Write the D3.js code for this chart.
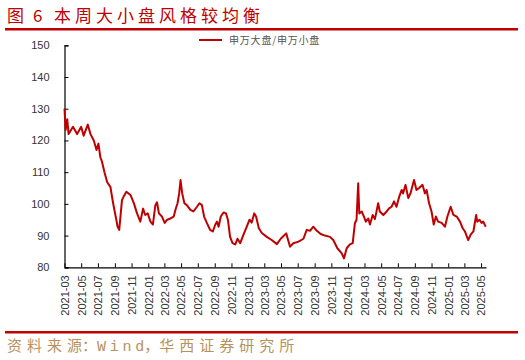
<!DOCTYPE html>
<html>
<head>
<meta charset="utf-8">
<script src="https://cdn.jsdelivr.net/npm/d3@7"></script>
<style>
  body { margin: 0; background: #fff; }
  svg { display: block; }
</style>
</head>
<body>
<div id="chart-area"></div>
<script>
// 申万大盘/申万小盘
var dates = [
  "2021-03-01","2021-03-05","2021-03-11","2021-03-16","2021-04-01","2021-04-16","2021-05-01","2021-05-10",
  "2021-05-25","2021-06-04","2021-06-16","2021-06-26","2021-07-03","2021-07-10","2021-07-16","2021-07-25",
  "2021-08-04","2021-08-16","2021-08-22","2021-08-28","2021-09-03","2021-09-11","2021-09-17","2021-09-27",
  "2021-10-03","2021-10-13","2021-10-28","2021-11-09","2021-11-21","2021-12-03","2021-12-13","2021-12-21",
  "2021-12-30","2022-01-09","2022-01-18","2022-01-27","2022-02-02","2022-02-09","2022-02-20","2022-03-02",
  "2022-03-11","2022-03-23","2022-04-04","2022-04-12","2022-04-18","2022-04-24","2022-04-29","2022-05-05",
  "2022-05-13","2022-05-22","2022-06-04","2022-06-15","2022-06-28","2022-07-07","2022-07-16","2022-07-24",
  "2022-08-03","2022-08-15","2022-08-25","2022-09-03","2022-09-09","2022-09-15","2022-09-23","2022-10-03",
  "2022-10-12","2022-10-19","2022-10-27","2022-11-05","2022-11-15","2022-11-23","2022-12-03","2022-12-15",
  "2022-12-27","2023-01-06","2023-01-14","2023-01-23","2023-01-30","2023-02-09","2023-02-20","2023-03-10",
  "2023-03-28","2023-04-16","2023-04-30","2023-05-20","2023-06-03","2023-06-15","2023-07-04","2023-07-22",
  "2023-08-03","2023-08-15","2023-08-27","2023-09-09","2023-09-23","2023-10-09","2023-10-27","2023-11-08",
  "2023-11-23","2023-12-09","2023-12-17","2023-12-27","2024-01-08","2024-01-18","2024-01-26","2024-02-01",
  "2024-02-07","2024-02-11","2024-02-20","2024-02-28","2024-03-06","2024-03-15","2024-03-21","2024-03-31",
  "2024-04-08","2024-04-14","2024-04-20","2024-04-26","2024-05-09","2024-05-21","2024-05-30","2024-06-08",
  "2024-06-17","2024-06-26","2024-07-06","2024-07-15","2024-07-20","2024-07-29","2024-08-08","2024-08-16",
  "2024-08-29","2024-09-07","2024-09-17","2024-09-29","2024-10-08","2024-10-14","2024-10-23","2024-11-01",
  "2024-11-09","2024-11-17","2024-11-25","2024-12-08","2024-12-20","2024-12-29","2025-01-10","2025-01-20",
  "2025-02-01","2025-02-13","2025-02-23","2025-03-03","2025-03-15","2025-03-24","2025-04-03","2025-04-13",
  "2025-04-17","2025-04-25","2025-05-03","2025-05-09","2025-05-18"
];
var ratio = [
  130, 123.3, 126.7, 122, 124.3, 122, 124.3, 121.5,
  125, 122, 120, 117, 119, 114.7, 113.3, 110,
  106.8, 105.3, 102, 99.1, 96.5, 92.8, 91.8, 101.2,
  102.3, 103.8, 102.8, 100.3, 97, 94.4, 98.5, 96.5,
  97, 94.4, 93.5, 99.6, 100.5, 97, 96, 94,
  95, 95.4, 96, 98.6, 100.2, 103.3, 107.5, 103.3,
  100.2, 99.6, 98.1, 97.6, 99.1, 100.2, 99.6, 96,
  94, 91.8, 91.3, 93.5, 94.4, 92.8, 96, 97.3,
  97, 95, 89.6, 87.6, 87.2, 89, 87.6, 90.3,
  92.8, 95, 94.1, 97, 96, 92.3, 90.8, 89.6,
  88.6, 87.3, 89, 90.7, 86.5, 87.6, 88.1, 89,
  91.8, 91.5, 92.8, 91.5, 90.5, 90, 89.6, 88.6,
  86, 84.4, 82.8, 86, 87.2, 87.6, 93.9, 95,
  106.5, 97, 97.6, 96, 94.4, 95.4, 93.5, 96.5,
  95.2, 97.6, 100.2, 97.6, 96.5, 97.6, 98.6, 99.1,
  100.8, 99.1, 102.3, 104.4, 103.3, 106, 101.8, 103.3,
  107.5, 104.4, 105, 106, 103.3, 104.4, 100.2, 97.6,
  93.5, 96, 94.4, 94, 92.8, 96, 99.1, 96.5,
  96, 94.4, 92.3, 91.3, 88.6, 90.3, 91.3, 96.5,
  94.4, 95, 94, 94.4, 92.8
];
var yTicks = [80, 90, 100, 110, 120, 130, 140, 150];
var xStart = "2021-03-01", xEnd = "2025-05-19";

var W = 525, H = 360;
var margin = { left: 64.5, right: 39, top: 45.3, bottom: 92.7 };
var width = W - margin.left - margin.right;
var height = H - margin.top - margin.bottom;
var red = "#c00000";
var tan = "#b8915e";
var cjk = "'Noto Sans CJK SC'";

var parse = d3.timeParse("%Y-%m-%d");
var data = dates.map(function(d, i) { return { date: parse(d), value: ratio[i] }; });

var svg = d3.select("#chart-area").append("svg")
  .attr("width", W)
  .attr("height", H);

// title
svg.append("text")
  .attr("x", 7).attr("y", 22)
  .attr("fill", red)
  .attr("font-family", cjk)
  .attr("font-size", "17px")
  .text("图");
svg.append("text")
  .attr("x", 33).attr("y", 22)
  .attr("fill", red)
  .attr("font-family", cjk)
  .attr("font-size", "17px")
  .text("6");
svg.append("text")
  .attr("x", 54).attr("y", 22)
  .attr("fill", red)
  .attr("font-family", cjk)
  .attr("font-size", "17px")
  .attr("letter-spacing", "4px")
  .text("本周大小盘风格较均衡");

svg.append("line")
  .attr("x1", 5).attr("x2", 518)
  .attr("y1", 29.3).attr("y2", 29.3)
  .attr("stroke", red).attr("stroke-width", 2.5);

svg.append("line")
  .attr("x1", 5).attr("x2", 518)
  .attr("y1", 332.2).attr("y2", 332.2)
  .attr("stroke", red).attr("stroke-width", 2.5);

// source line: one text, spacing tuned per piece (no trailing spacing before punctuation)
var src = svg.append("text")
  .attr("x", 7).attr("y", 351)
  .attr("fill", tan)
  .attr("font-family", cjk)
  .attr("font-size", "15px");
src.append("tspan").attr("letter-spacing", "5px").text("资料来");
src.append("tspan").attr("letter-spacing", "0px").text("源：");
src.append("tspan")
  .attr("font-family", "'Liberation Mono', monospace")
  .attr("letter-spacing", "3.7px")
  .text("Win");
src.append("tspan")
  .attr("font-family", "'Liberation Mono', monospace")
  .attr("letter-spacing", "0px")
  .text("d");
src.append("tspan").attr("letter-spacing", "0px").text("，");
src.append("tspan").attr("letter-spacing", "5px").text("华西证券研究所");

var g = svg.append("g")
  .attr("transform", "translate(" + margin.left + ", " + margin.top + ")");

var x = d3.scaleTime()
  .domain([parse(xStart), parse(xEnd)])
  .range([0, width]);

var y = d3.scaleLinear()
  .domain([80, 150])
  .range([height, 0]);

var yAxis = d3.axisLeft(y)
  .tickValues(yTicks)
  .tickSize(-4)
  .tickPadding(15);

g.append("g")
  .attr("class", "y-axis")
  .call(yAxis);

var xAxis = d3.axisBottom(x)
  .ticks(d3.timeMonth.every(2))
  .tickFormat(d3.timeFormat("%Y-%m"))
  .tickSize(-4)
  .tickSizeOuter(0);

var xg = g.append("g")
  .attr("class", "x-axis")
  .attr("transform", "translate(0, " + height + ")")
  .call(xAxis);

xg.selectAll("text")
  .attr("transform", "rotate(-90)")
  .attr("text-anchor", "end")
  .attr("x", -8)
  .attr("y", 0)
  .attr("dy", "0.35em");

g.selectAll(".domain").attr("stroke", "#000").attr("stroke-width", 1.2);
g.selectAll(".tick line").attr("stroke", "#000");
g.selectAll(".tick text")
  .attr("fill", "#333")
  .attr("font-family", "'Liberation Sans', Arial, sans-serif")
  .attr("font-size", "11px");

var line = d3.line()
  .x(function(d) { return x(d.date); })
  .y(function(d) { return y(d.value); });

g.append("path")
  .datum(data)
  .attr("fill", "none")
  .attr("stroke", red)
  .attr("stroke-width", 2)
  .attr("stroke-linejoin", "round")
  .attr("d", line);

// legend
svg.append("line")
  .attr("x1", 199).attr("x2", 222)
  .attr("y1", 40).attr("y2", 40)
  .attr("stroke", red).attr("stroke-width", 2);

svg.append("text")
  .attr("x", 229).attr("y", 44)
  .attr("fill", "#555")
  .attr("font-family", cjk)
  .attr("font-size", "10px")
  .attr("letter-spacing", "0.8px")
  .text("申万大盘/申万小盘");
</script>
</body>
</html>
